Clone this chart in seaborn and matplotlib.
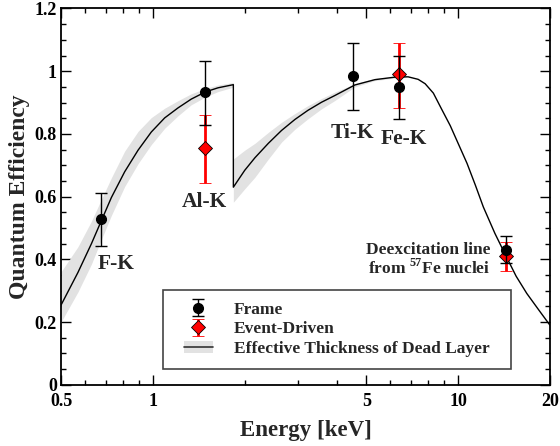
import matplotlib
matplotlib.use("Agg")
import matplotlib.pyplot as plt
import matplotlib.ticker as mticker
from matplotlib.patches import Patch, Rectangle
from matplotlib.lines import Line2D
from matplotlib.legend_handler import HandlerBase
import seaborn as sns

# ---- data ----
frame_e = [0.677, 1.487, 4.51, 6.40, 14.4]
frame_q = [0.527, 0.934, 0.986, 0.951, 0.429]
frame_lo = [0.442, 0.828, 0.876, 0.849, 0.387]
frame_hi = [0.610, 1.032, 1.091, 1.049, 0.475]

event_e = [1.487, 6.40, 14.4]
event_q = [0.755, 0.990, 0.410]
event_lo = [0.644, 0.883, 0.363]
event_hi = [0.861, 1.091, 0.455]

curve_e = [0.5, 0.568, 0.629, 0.677, 0.731, 0.808, 0.894, 0.988, 1.093, 1.209, 1.336, 1.487,
           1.635, 1.835,
           1.835, 2.0, 2.16, 2.39, 2.64, 2.92, 3.22, 3.57, 3.94, 4.59, 5.34, 6.21, 6.86,
           7.4, 7.8, 8.3, 8.8, 9.43, 10.7, 11.4, 12.1, 13.2, 14.4, 15.5, 16.8, 18.4, 20.0]
curve_q = [0.254, 0.358, 0.450, 0.522, 0.597, 0.679, 0.748, 0.806, 0.851, 0.883, 0.911, 0.934,
           0.947, 0.957,
           0.630, 0.684, 0.724, 0.770, 0.811, 0.846, 0.875, 0.901, 0.922, 0.956, 0.973, 0.981, 0.982,
           0.974, 0.960, 0.930, 0.882, 0.826, 0.706, 0.636, 0.567, 0.483, 0.408, 0.346, 0.291, 0.238, 0.190]

band_e = [0.5, 0.568, 0.629, 0.677, 0.731, 0.808, 0.894, 0.988, 1.093, 1.209, 1.336, 1.487,
          1.635, 1.835,
          1.835, 2.0, 2.16, 2.39, 2.64, 2.92, 3.22, 3.57, 3.94, 4.59, 5.34, 6.21, 6.86]
band_lo = [0.200, 0.296, 0.385, 0.462, 0.540, 0.632, 0.705, 0.766, 0.818, 0.858, 0.893, 0.918,
           0.935, 0.949,
           0.582, 0.625, 0.662, 0.720, 0.774, 0.815, 0.848, 0.880, 0.906, 0.950, 0.970, 0.978, 0.982]
band_hi = [0.360, 0.440, 0.522, 0.590, 0.660, 0.745, 0.808, 0.852, 0.882, 0.906, 0.928, 0.945,
           0.956, 0.964,
           0.720, 0.748, 0.770, 0.805, 0.837, 0.865, 0.890, 0.913, 0.933, 0.960, 0.977, 0.983, 0.982]

labels = ["F-K", "Al-K", "Ti-K", "Fe-K"]
label_e = [0.757, 1.48, 4.52, 6.63]
label_q = [0.385, 0.583, 0.804, 0.785]

xticks = [0.5, 1, 5, 10, 20]
xtick_labels = ["0.5", "1", "5", "10", "20"]
xminor = [0.6, 0.7, 0.8, 0.9, 2, 3, 4, 6, 7, 8, 9]
yticks = [0, 0.2, 0.4, 0.6, 0.8, 1.0, 1.2]
ytick_labels = ["0", "0.2", "0.4", "0.6", "0.8", "1", "1.2"]

legend_labels = ["Frame", "Event-Driven", "Effective Thickness of Dead Layer"]

# ---- style ----
sns.set_theme(style="ticks")
plt.rcParams["font.family"] = ["Liberation Serif", "DejaVu Serif"]
plt.rcParams["font.weight"] = "bold"
plt.rcParams["mathtext.fontset"] = "custom"
plt.rcParams["mathtext.rm"] = "Liberation Serif:bold"
plt.rcParams["mathtext.bf"] = "Liberation Serif:bold"

fig = plt.figure(figsize=(5.6, 4.46), dpi=100)
ax = fig.add_axes([0.109, 0.1374, 0.873, 0.8436])

band_color = "#e2e2e2"
ax.fill_between(band_e, band_lo, band_hi, color=band_color, lw=0, zorder=1)
sns.lineplot(x=curve_e, y=curve_q, sort=False, estimator=None, color="black",
             lw=1.0, ax=ax, zorder=2)

f_err = [[q - lo for q, lo in zip(frame_q, frame_lo)], [hi - q for q, hi in zip(frame_q, frame_hi)]]
e_err = [[q - lo for q, lo in zip(event_q, event_lo)], [hi - q for q, hi in zip(event_q, event_hi)]]

h_event = ax.errorbar(event_e, event_q, yerr=e_err, fmt="D", color="red", mfc="red", mec="black",
                      mew=0.6, ms=7, ecolor="red", elinewidth=2.0, capsize=4.5, capthick=2.0, zorder=3)
h_frame = ax.errorbar(frame_e, frame_q, yerr=f_err, fmt="o", color="black", ms=7,
                      ecolor="black", elinewidth=1.0, capsize=4.5, capthick=1.0, zorder=4)

ax.set_xscale("log")
ax.set_xlim(0.5, 20)
ax.set_ylim(0, 1.2)
ax.set_xticks(xticks)
ax.set_xticklabels(xtick_labels)
ax.xaxis.set_minor_locator(mticker.FixedLocator(xminor))
ax.xaxis.set_minor_formatter(mticker.NullFormatter())
ax.set_yticks(yticks)
ax.set_yticklabels(ytick_labels)
ax.yaxis.set_minor_locator(mticker.MultipleLocator(0.05))

ax.tick_params(which="both", direction="in", top=True, right=True, width=1.0, colors="black",
               labelsize=13, pad=3)
ax.tick_params(axis="x", which="major", pad=6)
ax.tick_params(which="major", length=7)
ax.tick_params(which="minor", length=3.5)
for lab in ax.get_xticklabels() + ax.get_yticklabels():
    lab.set_fontweight("bold")
for sp in ax.spines.values():
    sp.set_linewidth(1.3)
    sp.set_color("black")

ax.set_xlabel("Energy [keV]", fontsize=16.5, fontweight="bold", labelpad=7)
ax.set_ylabel("Quantum Efficiency", fontsize=17, fontweight="bold", labelpad=3)

for t, xe, yq in zip(labels, label_e, label_q):
    ax.text(xe, yq, t, ha="center", va="center", fontsize=15.5, fontweight="bold")
ax.text(12.76, 0.431, "Deexcitation line", ha="right", va="center", fontsize=12.5, fontweight="bold")
ax.text(12.76, 0.373, r"from $^{57}$Fe nuclei", ha="right", va="center", fontsize=12.5, fontweight="bold")


class BandHandler(HandlerBase):
    def create_artists(self, legend, orig_handle, xdescent, ydescent, width, height, fontsize, trans):
        w = width * 0.625
        x0 = width / 2 - xdescent - w / 2
        yc = height / 2 - ydescent
        rect = Rectangle((x0, yc - height * 0.5), w, height, facecolor=band_color,
                         edgecolor="none", transform=trans)
        line = Line2D([x0, x0 + w], [yc, yc], color="#333333", lw=1.2, transform=trans)
        return [rect, line]


band_handle = Patch(facecolor=band_color)
leg = ax.legend([h_frame, h_event, band_handle], legend_labels,
                handler_map={band_handle: BandHandler()},
                loc="upper left", bbox_to_anchor=(0.208, 0.252, 0.712, 0.0), mode="expand",
                frameon=True, fancybox=False, edgecolor="#444444", framealpha=1,
                prop={"weight": "bold", "size": 12.5}, handlelength=2.76, handletextpad=0.65,
                borderpad=0.68, labelspacing=0.2, borderaxespad=0)
leg.get_frame().set_linewidth(1.2)

fig.savefig("out.png", dpi=100)
